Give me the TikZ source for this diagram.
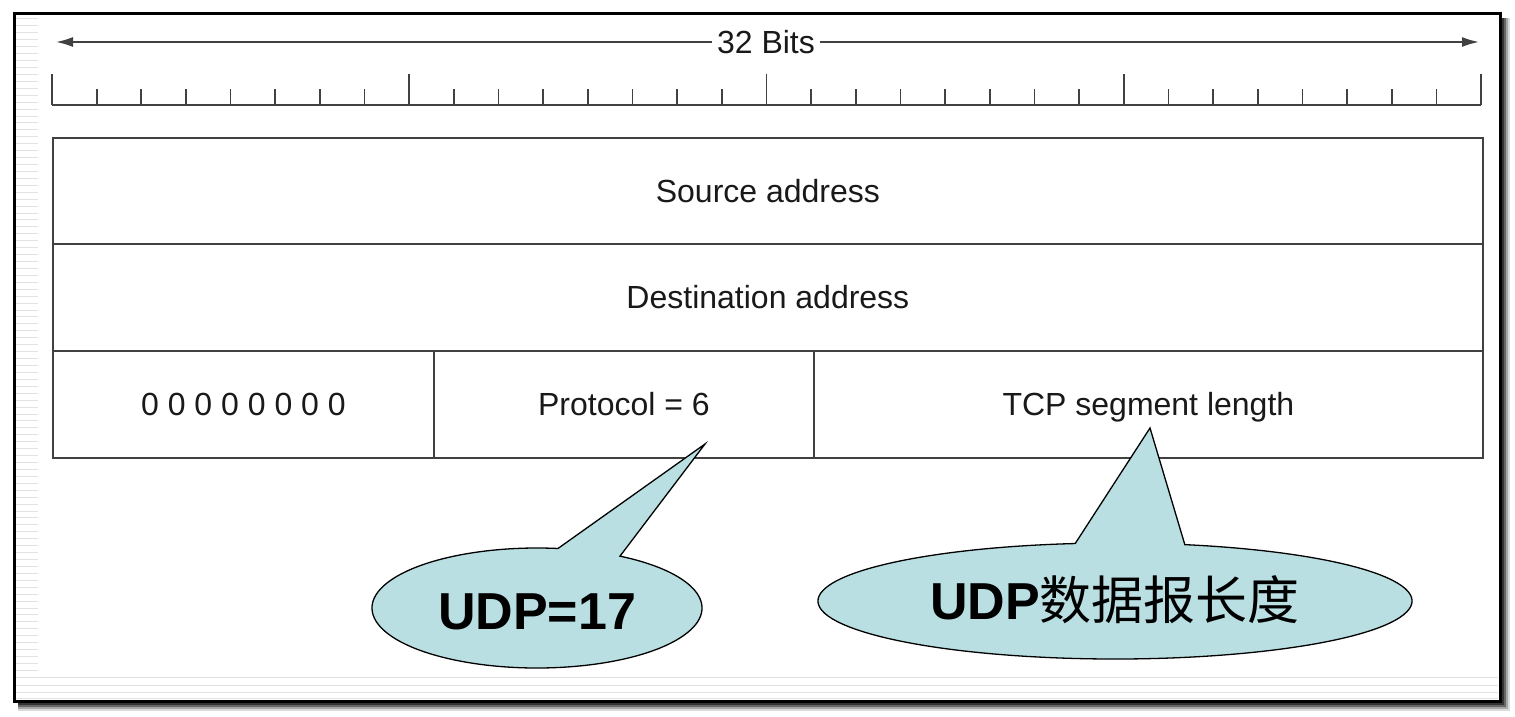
\documentclass[tikz,border=0pt]{standalone}
\usepackage{fontspec}
\setmainfont{Liberation Sans}
\newfontfamily\cjk{Noto Sans CJK SC}
\usetikzlibrary{arrows.meta,calc}
\definecolor{bub}{RGB}{185,223,226}
\definecolor{ink}{RGB}{25,25,25}
\definecolor{rulec}{RGB}{65,65,65}
\definecolor{stripe}{RGB}{226,226,226}
\begin{document}
\begin{tikzpicture}[x=1pt,y=1pt,
  cell/.style={draw=rulec, line width=1.8pt, anchor=north west, inner sep=0pt,
    font=\fontsize{32}{38}\selectfont, text=ink, text height=23pt, text depth=0pt},
  lbl/.style={font=\fontsize{32}{38}\selectfont, text=ink, inner ysep=0pt,
    text height=23pt, text depth=0pt},
  tickline/.style={draw=rulec, line width=1.7pt},
  bubble/.style={draw=black, line width=1.3pt, fill=bub},
  bubtxt/.style={font=\fontsize{52}{60}\selectfont\bfseries, text=black, inner sep=0pt},
  stripeline/.style={draw=stripe, line width=1pt},
  bitarrow/.style={rulec, line width=1.7pt, -{Latex[length=17pt,width=10pt]}}
  ]
\useasboundingbox (0,0) rectangle (1515,-717);
% frame with shadow
\fill[black!15] (18,-18) rectangle (1510,-711);
\fill[black!35] (18,-18) rectangle (1508,-709);
\fill[black!60] (18,-18) rectangle (1506,-707);
\fill[black!80] (18,-18) rectangle (1504,-705);
\fill[white] (14,-14) rectangle (1500,-701);
% faint background stripes
\foreach \k in {0,...,94} {
  \draw[stripeline] (16,{-19-6.93*\k}) -- (38,{-19-6.93*\k});
}
\foreach \yy in {677,685,692,698} {
  \draw[stripeline] (16,-\yy) -- (1498,-\yy);
}
\draw[black, line width=3pt] (14,-14) rectangle (1500,-701);

% 32 bits arrow
\coordinate (aL) at (56,-42);
\coordinate (aR) at (1479,-42);
\node[lbl, fill=white, inner xsep=5pt] (bits) at (766,-42) {32 Bits};
\draw[bitarrow] (bits.west) -- (aL);
\draw[bitarrow] (bits.east) -- (aR);

% ruler
\draw[tickline] (52,-105) -- (1481,-105);
\foreach \i in {0,...,32} {
  \pgfmathsetmacro{\xx}{52+\i*44.656}
  \pgfmathtruncatemacro{\m}{mod(\i,8)}
  \ifnum\m=0
    \draw[tickline] (\xx,-105) -- (\xx,-74);
  \else
    \draw[tickline] (\xx,-105) -- (\xx,-89);
  \fi
}

% header table
\node[cell, minimum width=1430pt, minimum height=106pt] (src) at (52,-137) {Source address};
\node[cell, minimum width=1430pt, minimum height=107pt] (dst) at (52,-243) {Destination address};
\node[cell, minimum width=381pt, minimum height=107pt] (zero) at (52,-350)
  {0\hspace{8.9pt}0\hspace{8.9pt}0\hspace{8.9pt}0\hspace{8.9pt}0\hspace{8.9pt}0\hspace{8.9pt}0\hspace{8.9pt}0};
\node[cell, minimum width=380pt, minimum height=107pt] (proto) at (433,-350) {Protocol = 6};
\node[cell, minimum width=669pt, minimum height=107pt] (tcplen) at (813,-350) {TCP segment length};

% callout 1
\coordinate (c1) at (537,-608);
\coordinate (tip1) at (705,-444);
\path[bubble] ($(c1)+(82.7:165 and 60)$) -- (tip1) -- ($(c1)+(59.8:165 and 60)$)
  arc[start angle=59.8, end angle=-277.3, x radius=165, y radius=60] -- cycle;
\node[bubtxt] (udp17) at (537,-612) {UDP=17};

% callout 2
\coordinate (c2) at (1115,-601);
\coordinate (tip2) at (1150,-428);
\path[bubble] ($(c2)+(97.7:297 and 58)$) -- (tip2) -- ($(c2)+(76.4:297 and 58)$)
  arc[start angle=76.4, end angle=-262.3, x radius=297, y radius=58] -- cycle;
\node[bubtxt] (udplen) at (1115,-600) {UDP{\cjk\mdseries 数据报长度}};
\end{tikzpicture}
\end{document}
